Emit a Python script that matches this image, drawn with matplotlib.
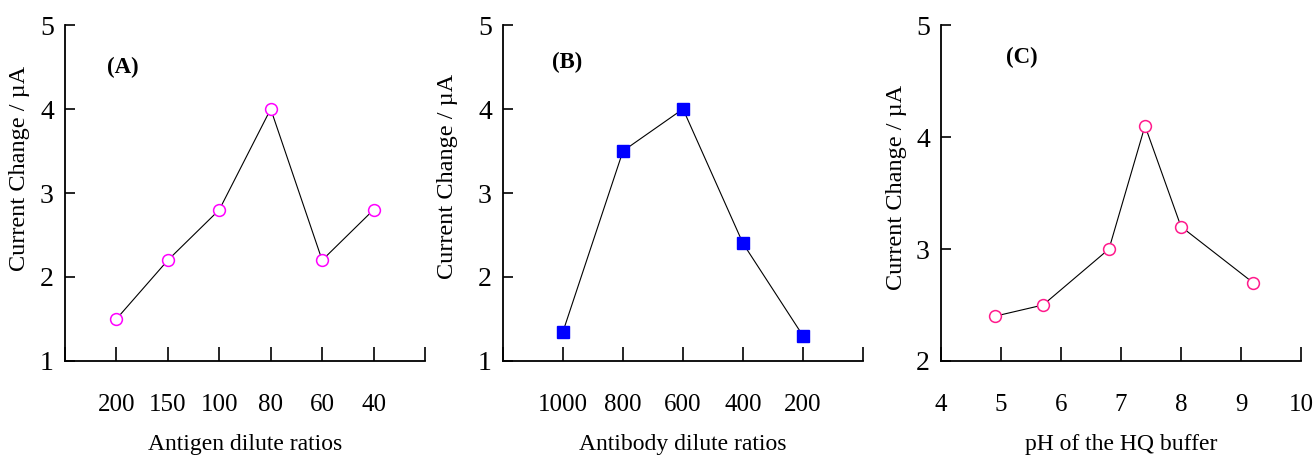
import matplotlib
matplotlib.use("Agg")
import matplotlib.pyplot as plt

plt.rcParams['font.family'] = ['Liberation Serif', 'DejaVu Serif']

# Panel A
a_labels = ["200", "150", "100", "80", "60", "40"]
a_values = [1.5, 2.2, 2.8, 4.0, 2.2, 2.8]
# Panel B
b_labels = ["1000", "800", "600", "400", "200"]
b_values = [1.35, 3.5, 4.0, 2.4, 1.3]
# Panel C
c_ph = [4.9, 5.7, 6.8, 7.4, 8.0, 9.2]
c_values = [2.4, 2.5, 3.0, 4.1, 3.2, 2.7]

fig = plt.figure(figsize=(13.15, 4.59), dpi=100)

W, H = 1315, 459
def add_ax(left_px, right_px, top_px, bottom_px):
    return fig.add_axes([left_px / W, (H - bottom_px) / H,
                         (right_px - left_px) / W, (bottom_px - top_px) / H])

axA = add_ax(65, 425, 25, 361)
axB = add_ax(503, 863, 25, 361)
axC = add_ax(941, 1301, 25, 361)

def style(ax, lx, ly):
    for s in ['top', 'right']:
        ax.spines[s].set_visible(False)
    for s in ['left', 'bottom']:
        ax.spines[s].set_linewidth(1.3)
    ax.tick_params(axis='x', direction='in', length=10, width=1.2,
                   pad=24, labelsize=18)
    ax.tick_params(axis='y', direction='in', length=7, width=1.2,
                   pad=8, labelsize=20)
    ax.set_ylabel("Current Change / \u00b5A", fontsize=17.5)
    ax.yaxis.set_label_coords(lx, ly)

# A
xa = list(range(1, len(a_values) + 1))
axA.plot(xa, a_values, color='black', lw=0.8, marker='o', ms=8.5,
         mfc='white', mec='#FF00FF', mew=1.1)
axA.set_xlim(0, len(a_values) + 1)
axA.set_ylim(1, 5)
axA.set_xticks(list(range(0, len(a_values) + 2)))
axA.set_xticklabels([""] + a_labels + [""])
axA.set_yticks([1, 2, 3, 4, 5])
style(axA, -0.097, 0.574)
axA.set_xlabel("Antigen dilute ratios", fontsize=17, labelpad=13)
axA.text(1.13, 4.5, "(A)", fontsize=16.5, fontweight='bold', ha='center', va='center')

# B
xb = list(range(1, len(b_values) + 1))
axB.plot(xb, b_values, color='black', lw=0.8, marker='s', ms=8.5,
         mfc='#0000FF', mec='#0000FF', mew=1)
axB.set_xlim(0, len(b_values) + 1)
axB.set_ylim(1, 5)
axB.set_xticks(list(range(0, len(b_values) + 2)))
axB.set_xticklabels([""] + b_labels + [""])
axB.set_yticks([1, 2, 3, 4, 5])
style(axB, -0.125, 0.55)
axB.set_xlabel("Antibody dilute ratios", fontsize=17, labelpad=13)
axB.text(1.07, 4.55, "(B)", fontsize=16.5, fontweight='bold', ha='center', va='center')

# C
axC.plot(c_ph, c_values, color='black', lw=0.8, marker='o', ms=8.5,
         mfc='white', mec='#FF1A8C', mew=1.1)
axC.set_xlim(4, 10)
axC.set_ylim(2, 5)
axC.set_xticks([4, 5, 6, 7, 8, 9, 10])
axC.set_yticks([2, 3, 4, 5])
style(axC, -0.094, 0.518)
axC.set_xlabel("pH of the HQ buffer", fontsize=17, labelpad=13)
axC.text(5.35, 4.71, "(C)", fontsize=16.5, fontweight='bold', ha='center', va='center')

fig.savefig("out.png", dpi=100)
